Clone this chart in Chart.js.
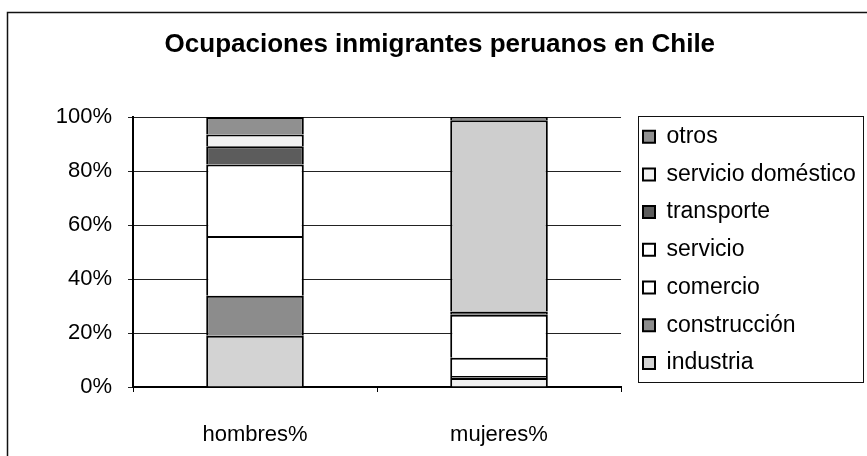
<!DOCTYPE html>
<html>
<head>
<meta charset="utf-8">
<script src="https://cdn.jsdelivr.net/npm/chart.js@4.4.0/dist/chart.umd.min.js"></script>
<style>
  html, body { margin: 0; padding: 0; background: #ffffff; }
  #wrap { width: 867px; height: 456px; position: relative; }
</style>
</head>
<body>
<div id="wrap"><canvas id="c" width="867" height="456"></canvas></div>
<script>
// ---- data ----
const chartTitle = 'Ocupaciones inmigrantes peruanos en Chile';
const categories = ['hombres%', 'mujeres%'];
const seriesNames = ['industria', 'construcción', 'comercio', 'servicio', 'transporte', 'servicio doméstico', 'otros'];
const industria = [19.0, 3.3];
const construccion = [14.8, 0.8];
const comercio = [22.1, 6.7];
const servicio = [26.5, 16.0];
const transporte = [6.8, 1.2];
const servicioDomestico = [4.3, 70.8];
const otros = [6.5, 1.2];
const yTickLabels = ['0%', '20%', '40%', '60%', '80%', '100%'];

const seriesValues = [industria, construccion, comercio, servicio, transporte, servicioDomestico, otros];

// ---- styles ----
const FONT = '"Liberation Sans", Arial, Helvetica, sans-serif';
// per-bar fill [hombres, mujeres] and legend swatch fill
const barFills = [
  ['#d3d3d3', '#f0f0f0'],
  ['#8c8c8c', '#8c8c8c'],
  ['#ffffff', '#ffffff'],
  ['#ffffff', '#ffffff'],
  ['#5c5c5c', '#5c5c5c'],
  ['#f2f2f2', '#cecece'],
  ['#909090', '#909090']
];
const legendFills = ['#f4f4f4', '#8c8c8c', '#ffffff', '#ffffff', '#5c5c5c', '#f2f2f2', '#7a7a7a'];

const datasets = seriesNames.map((name, i) => ({
  label: name,
  data: seriesValues[i],
  backgroundColor: (ctx) => ctx.type === 'data' ? barFills[i][ctx.dataIndex] : legendFills[i],
  borderColor: '#000000',
  borderWidth: 2,
  borderSkipped: 'start',
  categoryPercentage: 1.0,
  barPercentage: 0.4
}));

const framePlugin = {
  id: 'framePlugin',
  beforeDraw(chart) {
    const ctx = chart.ctx;
    ctx.save();
    ctx.fillStyle = '#ffffff';
    ctx.fillRect(0, 0, chart.width, chart.height);
    ctx.strokeStyle = '#111111';
    ctx.lineWidth = 1.5;
    ctx.strokeRect(7.5, 12.5, chart.width + 40, chart.height + 40);
    ctx.restore();
  },
  afterDraw(chart) {
    const lg = chart.legend;
    const hb = lg && lg.legendHitBoxes;
    if (!hb || !hb.length) return;
    const first = hb[0], last = hb[hb.length - 1];
    const ctx = chart.ctx;
    ctx.save();
    ctx.strokeStyle = '#111111';
    ctx.lineWidth = 1;
    const x0 = Math.round(first.left - 5) + 0.5;
    const y0 = Math.round(first.top - 9) + 0.5;
    const x1 = Math.round(lg.right - 3) + 0.5;
    const y1 = Math.round(last.top + last.height + 8) + 0.5;
    ctx.strokeRect(x0, y0, x1 - x0, y1 - y0);
    ctx.restore();
  }
};

new Chart(document.getElementById('c'), {
  type: 'bar',
  data: { labels: categories, datasets },
  plugins: [framePlugin],
  options: {
    responsive: false,
    animation: false,
    devicePixelRatio: 1,
    layout: { padding: { top: 0, left: 14, right: 1.3, bottom: 1.6 } },
    plugins: {
      title: {
        display: true,
        text: chartTitle,
        color: '#000000',
        font: { family: FONT, size: 26, weight: 'bold' },
        padding: { top: 29.4, bottom: 56.4 }
      },
      legend: {
        position: 'right',
        align: 'start',
        reverse: true,
        maxWidth: 300,
        title: { display: true, text: '', font: { size: 10 }, padding: { top: 98.5, bottom: 0 } },
        labels: {
          color: '#000000',
          font: { family: FONT, size: 23 },
          boxWidth: 12,
          boxHeight: 12,
          padding: 14.7
        }
      },
      tooltip: { enabled: false }
    },
    scales: {
      x: {
        stacked: true,
        grid: { display: true, drawOnChartArea: false, drawTicks: true, tickLength: 5, color: '#000000', offset: true },
        border: { display: true, color: '#000000', width: 2 },
        ticks: { color: '#000000', font: { family: FONT, size: 22 }, padding: 30 },
        afterFit: (s) => { s.height = 67.4; }
      },
      y: {
        stacked: true,
        min: 0,
        max: 100,
        grid: { color: '#222222', lineWidth: 1, tickLength: 5, drawTicks: true },
        border: { display: true, color: '#000000', width: 2 },
        ticks: {
          stepSize: 20,
          color: '#000000',
          font: { family: FONT, size: 22 },
          padding: 16,
          callback: (v) => yTickLabels[Math.round(v / 20)]
        },
        afterFit: (s) => { s.width = 119; }
      },
      spacer: {
        type: 'linear',
        position: 'right',
        display: true,
        grid: { display: false },
        border: { display: false },
        ticks: { display: false },
        afterFit: (s) => { s.width = 7.3; }
      }
    }
  }
});
</script>
</body>
</html>
